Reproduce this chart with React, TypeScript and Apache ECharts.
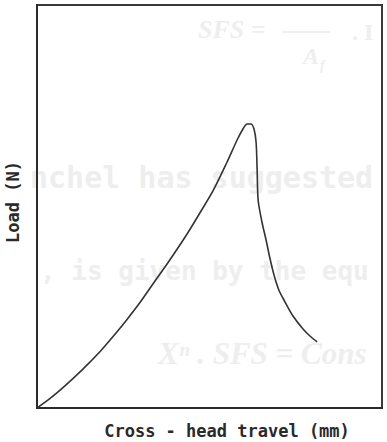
import React, { useEffect, useRef } from "react";
import * as echarts from "echarts";

// Cross-head travel (mm, arbitrary scale 0-10) and load (N, arbitrary scale 0-100)
const travel = [0, 0.38, 0.81, 1.33, 1.83, 2.26, 2.61, 2.99, 3.42, 3.77, 4.35, 4.72, 5.1, 5.51, 5.8, 5.97, 6.09, 6.2, 6.29, 6.35, 6.38, 6.41, 6.52, 6.64, 6.75, 6.87, 7.01, 7.19, 7.42, 7.71, 7.91, 8.12];
const load = [0, 2.38, 5.49, 9.65, 14.04, 18.31, 21.98, 26.22, 31.51, 35.73, 43.18, 48.39, 53.85, 61.04, 66.5, 69.23, 70.47, 70.47, 69.23, 66.0, 59.3, 51.61, 46.15, 41.69, 37.22, 33.0, 29.28, 26.3, 22.83, 19.6, 17.87, 16.38];

const xName = "Cross - head travel (mm)";
const yName = "Load (N)";

const bleedLines = ["nchel has suggested", ", is given by the equ"];
const bleedFormula = "Xⁿ . SFS = Cons";

export default function App() {
  const ref = useRef<HTMLDivElement>(null);
  useEffect(() => {
    document.body.style.margin = "0";
    if (!ref.current) return;
    const chart = echarts.init(ref.current, null, { renderer: "svg" });
    const data = travel.map((t, i) => [t, load[i]]);
    const faint = "#eeeeee";
    const ink = "#2a2a2a";
    chart.setOption({
      animation: false,
      backgroundColor: "#ffffff",
      graphic: [
        { type: "text", left: 198, top: 16, z: -10, style: { text: "SFS =", fill: faint, font: "italic bold 26px 'Liberation Serif'" } },
        { type: "line", z: -10, shape: { x1: 282, y1: 32, x2: 330, y2: 32 }, style: { stroke: faint, lineWidth: 2 } },
        { type: "text", left: 303, top: 44, z: -10, style: { text: "A", fill: faint, font: "italic bold 24px 'Liberation Serif'" } },
        { type: "text", left: 320, top: 58, z: -10, style: { text: "f", fill: faint, font: "italic bold 14px 'Liberation Serif'" } },
        { type: "text", left: 352, top: 20, z: -10, style: { text: ". I", fill: faint, font: "bold 24px 'Liberation Serif'" } },
        { type: "text", left: 30, top: 162, z: -10, style: { text: bleedLines[0], fill: faint, font: "bold 30px 'DejaVu Sans Mono'" } },
        { type: "text", left: 40, top: 258, z: -10, style: { text: bleedLines[1], fill: faint, font: "bold 26px 'DejaVu Sans Mono'" } },
        { type: "text", left: 158, top: 338, z: -10, style: { text: bleedFormula, fill: faint, font: "italic bold 31px 'Liberation Serif'" } },
        {
          type: "text",
          x: 227,
          y: 431,
          z: 10,
          style: { text: xName, align: "center", verticalAlign: "middle", fill: ink, font: "bold 17px 'DejaVu Sans Mono'" },
        },
        {
          type: "text",
          x: 13,
          y: 202,
          rotation: Math.PI / 2,
          z: 10,
          style: { text: yName, align: "center", verticalAlign: "middle", fill: ink, font: "bold 17px 'DejaVu Sans Mono'" },
        },
      ],
      grid: {
        left: 37,
        top: 5,
        width: 345,
        height: 403,
        show: true,
        borderColor: "#3a3a3a",
        borderWidth: 2,
        backgroundColor: "transparent",
      },
      xAxis: {
        type: "value",
        min: 0,
        max: 10,
        axisLine: { show: true, lineStyle: { color: ink, width: 2 } },
        axisTick: { show: false },
        axisLabel: { show: false },
        splitLine: { show: false },
      },
      yAxis: {
        type: "value",
        min: 0,
        max: 100,
        axisLine: { show: true, lineStyle: { color: ink, width: 2 } },
        axisTick: { show: false },
        axisLabel: { show: false },
        splitLine: { show: false },
      },
      series: [
        {
          type: "line",
          data,
          smooth: 0.3,
          showSymbol: false,
          lineStyle: { color: "#333333", width: 1.6 },
          z: 5,
        },
      ],
    });
    return () => chart.dispose();
  }, []);
  return <div ref={ref} style={{ width: 387, height: 442 }} />;
}
